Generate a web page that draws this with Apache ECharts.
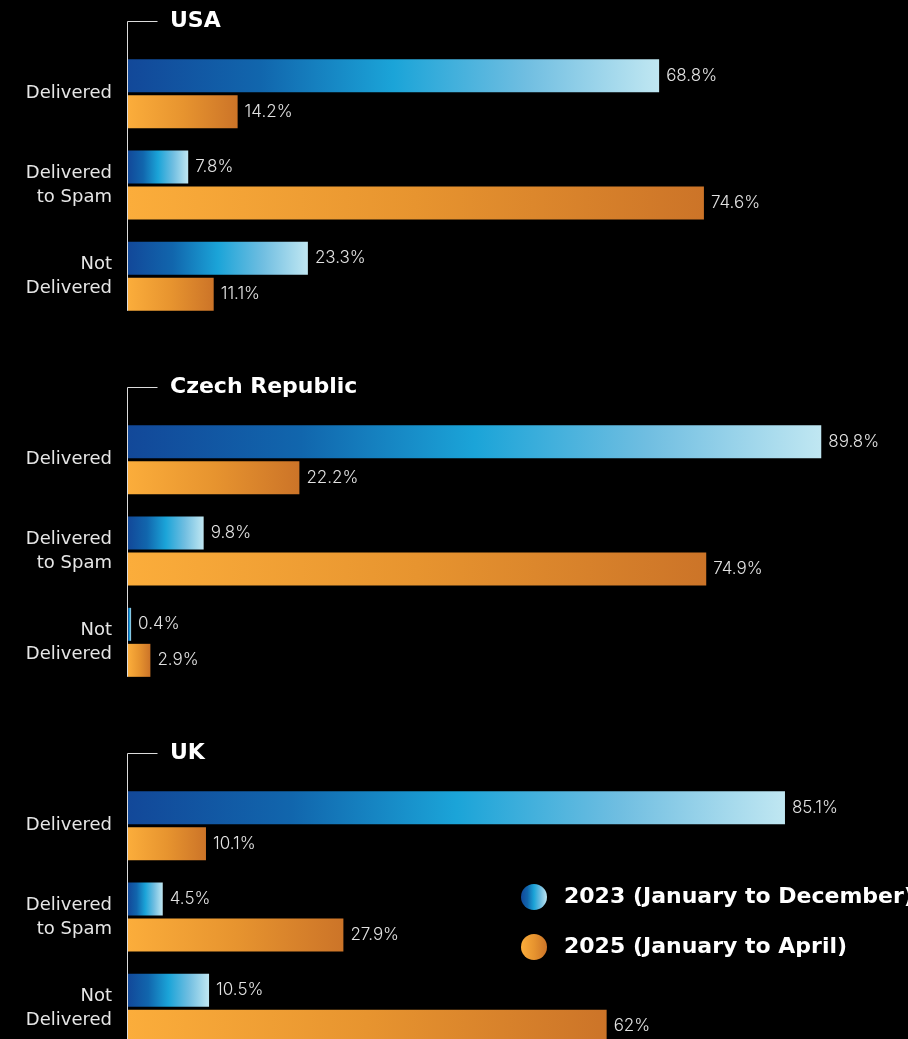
<!DOCTYPE html>
<html>
<head>
<meta charset="utf-8">
<style>
  html, body { margin: 0; padding: 0; background: #000; }
  #chart { width: 908px; height: 1039px; }
</style>
<script src="https://cdn.jsdelivr.net/npm/echarts@6/dist/echarts.min.js"></script>
</head>
<body>
<div id="chart"></div>
<script>
// Email deliverability by country, 2023 vs 2025 (percent of messages)
const countries = ['USA', 'Czech Republic', 'UK'];
const categories = ['Delivered', 'Delivered\nto Spam', 'Not\nDelivered'];
const seriesNames = ['2023 (January to December)', '2025 (January to April)'];

const usa2023 = [68.8, 7.8, 23.3];
const usa2025 = [14.2, 74.6, 11.1];
const czech2023 = [89.8, 9.8, 0.4];
const czech2025 = [22.2, 74.9, 2.9];
const uk2023 = [85.1, 4.5, 10.5];
const uk2025 = [10.1, 27.9, 62];

const panelData = [
  [usa2023, usa2025],
  [czech2023, czech2025],
  [uk2023, uk2025]
];

// layout
const WIDE_FONT = '"DejaVu Sans", Inter, sans-serif';
const LIGHT_FONT = 'Inter, "Open Sans", sans-serif';
const GRID_LEFT = 128;
const GRID_WIDTH = 772;
const GRID_HEIGHT = 274;
const PANEL_STEP = 366;
const FIRST_TOP = 48;
const BAR_W = 33;
const BAR_GAP_PX = 3;

const blueGrad = new echarts.graphic.LinearGradient(0, 0, 1, 0, [
  { offset: 0, color: '#124899' },
  { offset: 0.25, color: '#1166ad' },
  { offset: 0.5, color: '#1ba4d8' },
  { offset: 0.75, color: '#70bee1' },
  { offset: 1, color: '#c0e7f2' }
]);
const orangeGrad = new echarts.graphic.LinearGradient(0, 0, 1, 0, [
  { offset: 0, color: '#fbad3b' },
  { offset: 0.5, color: '#e7942f' },
  { offset: 1, color: '#cc7428' }
]);
const colors = [blueGrad, orangeGrad];

const grids = [], xAxes = [], yAxes = [], series = [], titles = [];

countries.forEach((name, i) => {
  const top = FIRST_TOP + i * PANEL_STEP;
  grids.push({
    left: GRID_LEFT, width: GRID_WIDTH, top: top, height: GRID_HEIGHT,
    outerBoundsMode: 'none', containLabel: false
  });
  xAxes.push({
    gridIndex: i, type: 'value', min: 0, max: 100, show: false
  });
  yAxes.push({
    gridIndex: i, type: 'category', data: categories, inverse: true,
    axisLine: { show: false }, axisTick: { show: false }, splitLine: { show: false },
    axisLabel: {
      color: '#e6e6e6', fontFamily: WIDE_FONT, fontSize: 18, lineHeight: 24, margin: 16, align: 'right'
    }
  });
  titles.push({
    text: name, left: 170, top: top - 27 - 14, padding: 0,
    textStyle: { color: '#ffffff', fontFamily: WIDE_FONT, fontWeight: 'bold', fontSize: 22, lineHeight: 28 }
  });
  panelData[i].forEach((vals, s) => {
    series.push({
      type: 'bar', name: seriesNames[s], xAxisIndex: i, yAxisIndex: i,
      data: vals, barWidth: BAR_W, barGap: (BAR_GAP_PX / BAR_W * 100) + '%',
      itemStyle: { color: colors[s] },
      label: {
        show: true, position: 'right', distance: 7,
        formatter: p => p.value + '%',
        color: '#e2e2e2', fontFamily: LIGHT_FONT, fontSize: 17, fontWeight: 300
      },
      animation: false
    });
  });
});

const option = {
  backgroundColor: '#000000',
  animation: false,
  title: titles,
  grid: grids,
  xAxis: xAxes,
  yAxis: yAxes,
  legend: {
    orient: 'vertical', left: 521, top: 884, padding: 0,
    icon: 'circle', itemWidth: 26, itemHeight: 26, itemGap: 24,
    data: seriesNames, selectedMode: false,
    textStyle: { color: '#ffffff', fontFamily: WIDE_FONT, fontWeight: 'bold', fontSize: 22, padding: [0, 0, 0, 12] }
  },
  series: series
};

const chart = echarts.init(document.getElementById('chart'), null, { renderer: 'canvas' });
chart.setOption(option);

// Bracket per panel: short rule into the country title, then down the category axis
const bracketColor = '#dcdcdc';
const graphics = [];
countries.forEach((name, i) => {
  const lineY = Math.round(FIRST_TOP + i * PANEL_STEP - 27.5) + 0.5;
  const lastCenter = chart.convertToPixel({ yAxisIndex: i }, categories[categories.length - 1]);
  const bottom = lastCenter + BAR_W + BAR_GAP_PX / 2;
  const x = GRID_LEFT - 0.5;
  graphics.push({
    type: 'polyline',
    shape: { points: [[x + 30, lineY], [x, lineY], [x, bottom]] },
    style: { stroke: bracketColor, lineWidth: 1, fill: null },
    silent: true
  });
});
chart.setOption({ graphic: graphics });
</script>
</body>
</html>
